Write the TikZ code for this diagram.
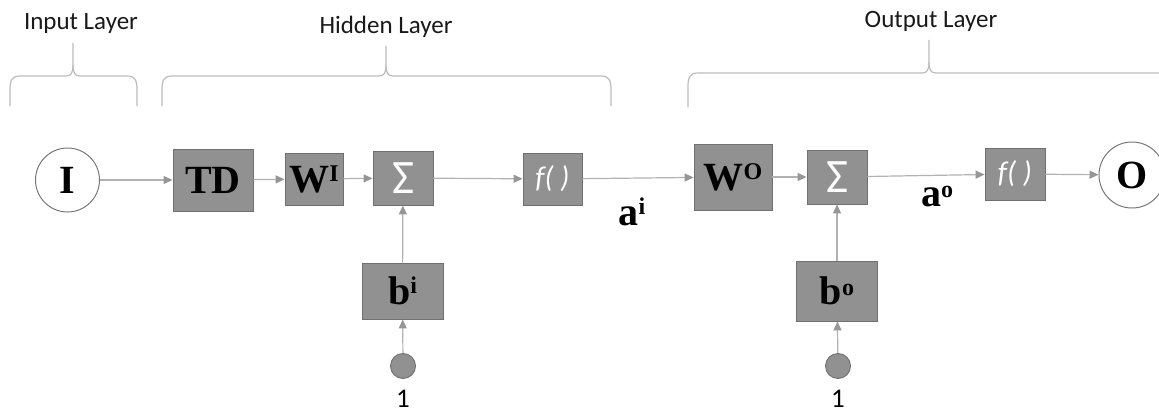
\documentclass[tikz,border=0pt]{standalone}
\usepackage{fontspec}
\setmainfont{Liberation Serif}
\newfontfamily\calfont{Carlito}
\usetikzlibrary{arrows.meta}
\definecolor{boxfill}{RGB}{145,145,145}
\definecolor{boxline}{RGB}{112,112,112}
\definecolor{connc}{RGB}{178,178,178}
\definecolor{tipc}{RGB}{150,150,150}
\definecolor{bracec}{RGB}{188,188,188}
\definecolor{circline}{RGB}{120,120,120}
\newcommand\layerbrace[6]{%
  \draw[bracestyle] (#1,#6) -- (#1,#4+14) .. controls (#1,#4+4) and (#1+2,#4) .. (#1+10,#4)
     -- (#3-7,#4) .. controls (#3-2,#4) and (#3,#4-3) .. (#3,#4-11) -- (#3,#5);
  \draw[bracestyle] (#2,#6) -- (#2,#4+14) .. controls (#2,#4+4) and (#2-2,#4) .. (#2-10,#4)
     -- (#3+7,#4) .. controls (#3+2,#4) and (#3,#4-3) .. (#3,#4-11);
}
\tikzset{
  bracestyle/.style={draw=bracec, line width=1.2pt},
  box/.style={draw=boxline, fill=boxfill, line width=0.9pt, inner sep=0pt, anchor=center},
  circnode/.style={circle, draw=circline, line width=1pt, fill=white, inner sep=0pt},
  onecirc/.style={circle, draw=boxline, fill=boxfill, line width=0.9pt, inner sep=0pt, minimum size=25pt},
  conn/.style={draw=connc, line width=1.2pt, -{Triangle[length=9pt,width=8pt,color=tipc]}},
  bigsym/.style={font=\fontsize{40}{40}\selectfont\bfseries},
  layertxt/.style={font=\calfont\fontsize{25}{25}\selectfont, text=black!90, anchor=base},
  sigtxt/.style={text=white, font=\calfont\fontsize{48}{48}\selectfont},
  ftxt/.style={text=white, font=\calfont\itshape\fontsize{30}{30}\selectfont},
  onetxt/.style={font=\calfont\fontsize{27}{27}\selectfont, inner sep=0pt, anchor=base},
}
\newcommand\supr[2]{\raisebox{#1}{\fontsize{24}{24}\selectfont #2}}
\begin{document}
\begin{tikzpicture}[x=1pt,y=-1pt]
\useasboundingbox (0,0) rectangle (1159,412);
% layer labels
\node[layertxt] (lin) at (81,30) {Input Layer};
\node[layertxt] (lhid) at (386,34) {Hidden Layer};
\node[layertxt] (lout) at (931,28) {Output Layer};
% braces
\layerbrace{10}{137}{73}{76}{43}{106}
\layerbrace{162}{611}{386}{76}{46}{106}
\layerbrace{688}{1185}{929}{73}{40}{107}
% main row
\node[circnode, minimum size=64pt, bigsym] (I) at (67.5,180) {I};
\node[box, minimum width=80pt, minimum height=62pt, bigsym] (TD) at (213,180) {TD};
\node[box, minimum width=58pt, minimum height=52pt, bigsym] (WI) at (314,179) {W\supr{11pt}{I}};
\node[box, minimum width=60pt, minimum height=54pt, sigtxt] (SH) at (403,178) {Σ};
\node[box, minimum width=59pt, minimum height=52pt, ftxt] (FH) at (552.5,179) {f( )};
\node[box, minimum width=78pt, minimum height=66pt, bigsym] (WO) at (733,177) {W\supr{11pt}{O}};
\node[box, minimum width=60pt, minimum height=54pt, sigtxt] (SO) at (837,177) {Σ};
\node[box, minimum width=60pt, minimum height=52pt, ftxt] (FO) at (1015,174) {f( )};
\node[circnode, minimum size=66pt, bigsym] (O) at (1132,175) {O};
% bias boxes
\node[box, minimum width=81pt, minimum height=56pt, bigsym] (BI) at (402.5,291) {b\supr{11pt}{i}};
\node[box, minimum width=81pt, minimum height=60pt, bigsym] (BO) at (837,291) {b\supr{9pt}{o}};
\node[onecirc] (C1) at (403,366) {};
\node[onecirc] (C2) at (838,366) {};
\node[onetxt] (N1) at (403,407) {1};
\node[onetxt] (N2) at (838,407) {1};
% activation labels
\node[bigsym] (AI) at (632,212) {a\supr{11pt}{i}};
\node[bigsym] (AO) at (937,197) {a\supr{9pt}{o}};
% connectors
\draw[conn] (I) -- (TD);
\draw[conn] (TD) -- (WI);
\draw[conn] (WI) -- (SH);
\draw[conn] (SH) -- (FH);
\draw[conn] (FH) -- (WO);
\draw[conn] (WO) -- (SO);
\draw[conn] (SO) -- (FO);
\draw[conn] (FO) -- (O);
\draw[conn] (C1) -- (BI);
\draw[conn] (BI) -- (SH);
\draw[conn] (C2) -- (BO);
\draw[conn] (BO) -- (SO);
\end{tikzpicture}
\end{document}
